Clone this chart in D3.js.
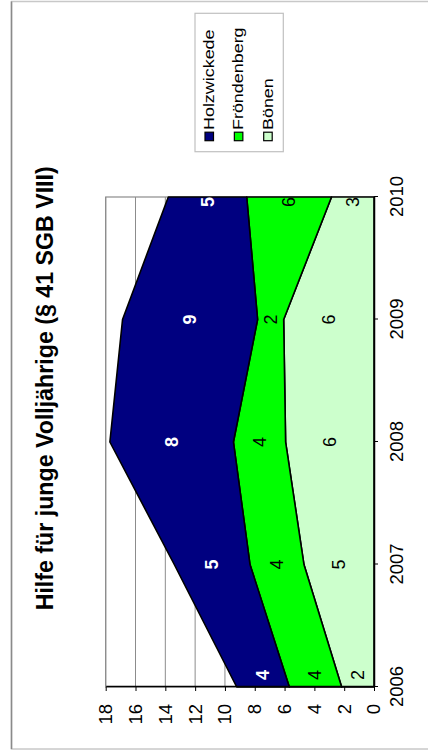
<!DOCTYPE html>
<html>
<head>
<meta charset="utf-8">
<script src="https://cdn.jsdelivr.net/npm/d3@7"></script>
<style>
  html, body { margin: 0; padding: 0; background: #fff; }
  svg { display: block; font-family: "Liberation Sans", Arial, sans-serif; }
</style>
</head>
<body>
<svg id="chart" width="428" height="751"></svg>
<script>
// ---- data ----
const years = ["2006", "2007", "2008", "2009", "2010"];
const boenen = [2.17, 4.70, 5.93, 6.06, 2.85];
const froendenberg = [3.51, 3.62, 3.50, 1.75, 5.69];
const holzwickede = [3.53, 5.08, 8.29, 9.06, 5.26];
const seriesKeys = ["Bönen", "Fröndenberg", "Holzwickede"];
const legendOrder = ["Holzwickede", "Fröndenberg", "Bönen"];
const valueTicks = [0, 2, 4, 6, 8, 10, 12, 14, 16, 18];
const titleText = "Hilfe für junge Volljährige (§ 41 SGB VIII)";

const colors = { "Holzwickede": "#000080", "Fröndenberg": "#00ff00", "Bönen": "#ccffcc" };
const labelStyle = {
  "Holzwickede": { fill: "#fff", weight: "bold" },
  "Fröndenberg": { fill: "#000", weight: "normal" },
  "Bönen": { fill: "#000", weight: "normal" }
};

const table = years.map((yr, i) => ({
  year: yr,
  "Bönen": boenen[i],
  "Fröndenberg": froendenberg[i],
  "Holzwickede": holzwickede[i]
}));

const svg = d3.select("#chart");
svg.append("rect").attr("width", 428).attr("height", 751).attr("fill", "#fff");

// outer border
svg.append("rect").attr("x", 11.5).attr("y", 1.5).attr("width", 425).attr("height", 747.5)
  .attr("fill", "none").attr("stroke", "#c8c8c8").attr("stroke-width", 1.5);
svg.append("line").attr("x1", 11.5).attr("x2", 11.5).attr("y1", 1.5).attr("y2", 749)
  .attr("stroke", "#8a8a8a").attr("stroke-width", 1.5);

// chart is drawn unrotated, then rotated 90° counter-clockwise
const g = svg.append("g").attr("transform", "translate(0,751) rotate(-90)");

const plot = { left: 64, right: 554, top: 105.7, bottom: 374 };

const x = d3.scalePoint().domain(years).range([plot.left, plot.right]);
const y = d3.scaleLinear().domain([0, 18]).range([plot.bottom, plot.top]);

// gridlines
g.append("g").selectAll("line").data(valueTicks.filter(v => v > 0)).join("line")
  .attr("x1", plot.left).attr("x2", plot.right)
  .attr("y1", d => y(d)).attr("y2", d => y(d))
  .attr("stroke", "#8c8c8c").attr("stroke-width", 1);

// plot-area border
g.append("rect").attr("x", plot.left).attr("y", plot.top)
  .attr("width", plot.right - plot.left).attr("height", plot.bottom - plot.top)
  .attr("fill", "none").attr("stroke", "#8c8c8c").attr("stroke-width", 1.2);

// stacked areas
const stacked = d3.stack().keys(seriesKeys)(table);
const area = d3.area()
  .x(d => x(d.data.year))
  .y0(d => y(d[0]))
  .y1(d => y(d[1]));

g.append("g").selectAll("path").data(stacked).join("path")
  .attr("d", area)
  .attr("fill", d => colors[d.key])
  .attr("stroke", "#000").attr("stroke-width", 1.6).attr("stroke-linejoin", "round");

// axes
const yAxis = g.append("g").attr("transform", `translate(${plot.left},0)`)
  .call(d3.axisLeft(y).tickValues(valueTicks).tickSizeInner(4).tickSizeOuter(0).tickPadding(13));
const xAxis = g.append("g").attr("transform", `translate(0,${plot.bottom})`)
  .call(d3.axisBottom(x).tickSizeInner(4).tickSizeOuter(0).tickPadding(12));
[yAxis, xAxis].forEach(ax => {
  ax.select(".domain").attr("stroke", "#000").attr("stroke-width", 1.5);
  ax.selectAll(".tick line").attr("stroke", "#000").attr("stroke-width", 1);
  ax.selectAll("text").attr("font-size", 18.5).attr("fill", "#000")
    .attr("font-family", "'Liberation Sans', Arial, sans-serif");
});

// data labels
g.append("clipPath").attr("id", "plotClip").append("rect")
  .attr("x", plot.left).attr("y", plot.top)
  .attr("width", plot.right - plot.left).attr("height", plot.bottom - plot.top);

const labels = [];
stacked.forEach(s => {
  s.forEach((d, i) => {
    labels.push({ key: s.key, i, year: d.data.year, mid: (d[0] + d[1]) / 2, value: d.data[s.key] });
  });
});
const edgeShift = i => (i === 0 ? 12 : (i === years.length - 1 ? -5 : 0));

g.append("g").attr("clip-path", "url(#plotClip)")
  .selectAll("text").data(labels).join("text")
  .attr("x", d => x(d.year) + edgeShift(d.i))
  .attr("y", d => y(d.mid))
  .attr("text-anchor", "middle")
  .attr("dominant-baseline", "central")
  .attr("font-size", 18)
  .attr("font-weight", d => labelStyle[d.key].weight)
  .attr("fill", d => labelStyle[d.key].fill)
  .text(d => d3.format(".0f")(d.value));

// title
g.append("text")
  .attr("x", 362.7).attr("y", 53.3)
  .attr("text-anchor", "middle")
  .attr("font-size", 23.2).attr("font-weight", "bold").attr("fill", "#000")
  .text(titleText);

// legend
const lg = g.append("g");
lg.append("rect").attr("x", 599.3).attr("y", 195).attr("width", 138.4).attr("height", 88.3)
  .attr("fill", "#fff").attr("stroke", "#c0c0c0").attr("stroke-width", 1.2);
const lgBase = d3.scalePoint().domain(legendOrder).range([214, 272.7]);
const items = lg.selectAll("g.item").data(legendOrder).join("g").attr("class", "item");
items.append("rect")
  .attr("x", 610.3).attr("y", d => lgBase(d) - 9)
  .attr("width", 8.5).attr("height", 8.5)
  .attr("fill", d => colors[d]).attr("stroke", "#000").attr("stroke-width", 1.2);
items.append("text")
  .attr("transform", d => `translate(621,${lgBase(d)}) scale(1.22,1)`)
  .attr("font-size", 14.7).attr("fill", "#000")
  .text(d => d);
</script>
</body>
</html>
